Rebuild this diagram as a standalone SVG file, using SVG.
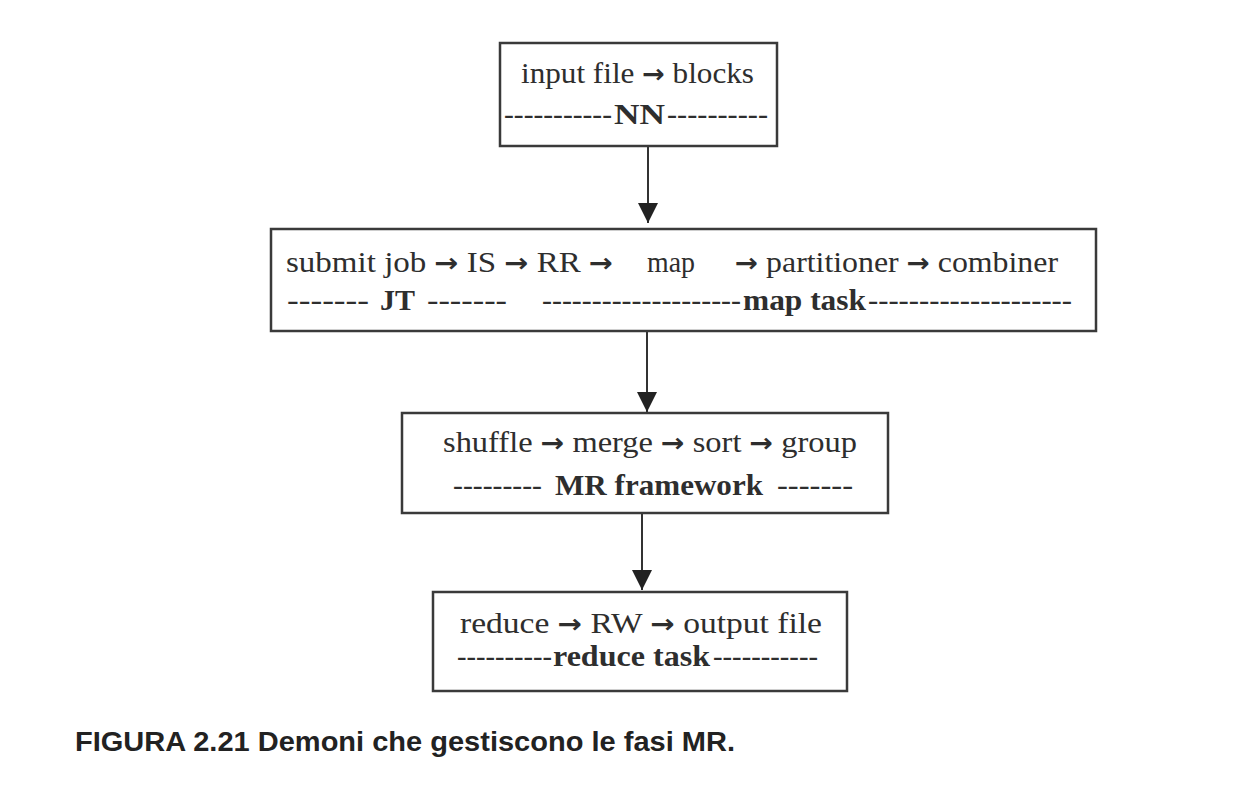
<svg xmlns="http://www.w3.org/2000/svg" width="1242" height="788" viewBox="0 0 1242 788">
<style>
  .box { fill: #ffffff; stroke: #3a3a3a; stroke-width: 2.5; }
  .t { font-family: "Liberation Serif", "Times New Roman", serif; font-size: 30px; fill: #2e2e2e; }
  .b { font-weight: bold; }
  .ar { font-family: "DejaVu Sans", sans-serif; font-size: 26px; font-weight: bold; }
  .edge { stroke: #333333; stroke-width: 2; fill: none; }
  .cap { font-family: "Liberation Sans", Arial, sans-serif; font-size: 27px; font-weight: bold; fill: #222222; }
</style>
<defs>
  <marker id="arrow" viewBox="0 0 20 20" refX="20" refY="10" markerWidth="20" markerHeight="20" markerUnits="userSpaceOnUse" orient="auto">
    <path d="M0,0 L20,10 L0,20 Z" fill="#222222"/>
  </marker>
</defs>
<rect width="1242" height="788" fill="#ffffff"/>

<g id="connectors">
  <line class="edge" x1="648" y1="146" x2="648" y2="223" marker-end="url(#arrow)"/>
  <line class="edge" x1="647" y1="331" x2="647" y2="412" marker-end="url(#arrow)"/>
  <line class="edge" x1="642" y1="513" x2="642" y2="590" marker-end="url(#arrow)"/>
</g>

<g id="node-nn">
  <rect class="box" x="500" y="43" width="277" height="103"/>
  <text class="t" x="521" y="83" textLength="233" lengthAdjust="spacingAndGlyphs">input file <tspan class="ar">→</tspan> blocks</text>
  <text class="t" y="124"><tspan x="504" textLength="108" lengthAdjust="spacingAndGlyphs">-----------</tspan><tspan class="b" x="614" textLength="51" lengthAdjust="spacingAndGlyphs">NN</tspan><tspan x="667" textLength="101" lengthAdjust="spacingAndGlyphs">----------</tspan></text>
</g>

<g id="node-jt-map">
  <rect class="box" x="271" y="229" width="825" height="102"/>
  <text class="t" y="272"><tspan x="286" textLength="327" lengthAdjust="spacingAndGlyphs">submit job <tspan class="ar">→</tspan> IS <tspan class="ar">→</tspan> RR <tspan class="ar">→</tspan></tspan> <tspan x="647" textLength="48" lengthAdjust="spacingAndGlyphs">map</tspan> <tspan x="735" textLength="323" lengthAdjust="spacingAndGlyphs"><tspan class="ar">→</tspan> partitioner <tspan class="ar">→</tspan> combiner</tspan></text>
  <text class="t" y="310"><tspan x="287" textLength="82" lengthAdjust="spacingAndGlyphs">-------</tspan> <tspan class="b" x="380" textLength="35" lengthAdjust="spacingAndGlyphs">JT</tspan> <tspan x="427" textLength="80" lengthAdjust="spacingAndGlyphs">-------</tspan> <tspan x="542" textLength="199" lengthAdjust="spacingAndGlyphs">--------------------</tspan><tspan class="b" x="743" textLength="123" lengthAdjust="spacingAndGlyphs">map task</tspan><tspan x="868" textLength="204" lengthAdjust="spacingAndGlyphs">--------------------</tspan></text>
</g>

<g id="node-mr">
  <rect class="box" x="402" y="413" width="486" height="100"/>
  <text class="t" x="443" y="452" textLength="414" lengthAdjust="spacingAndGlyphs">shuffle <tspan class="ar">→</tspan> merge <tspan class="ar">→</tspan> sort <tspan class="ar">→</tspan> group</text>
  <text class="t" y="495"><tspan x="453" textLength="89" lengthAdjust="spacingAndGlyphs">---------</tspan> <tspan class="b" x="555" textLength="208" lengthAdjust="spacingAndGlyphs">MR framework</tspan> <tspan x="777" textLength="76" lengthAdjust="spacingAndGlyphs">-------</tspan></text>
</g>

<g id="node-reduce">
  <rect class="box" x="433" y="592" width="414" height="99"/>
  <text class="t" x="460" y="633" textLength="362" lengthAdjust="spacingAndGlyphs">reduce <tspan class="ar">→</tspan> RW <tspan class="ar">→</tspan> output file</text>
  <text class="t" y="666"><tspan x="457" textLength="95" lengthAdjust="spacingAndGlyphs">----------</tspan><tspan class="b" x="553" textLength="157" lengthAdjust="spacingAndGlyphs">reduce task</tspan><tspan x="713" textLength="105" lengthAdjust="spacingAndGlyphs">-----------</tspan></text>
</g>

<text class="cap" x="75" y="751" textLength="660" lengthAdjust="spacingAndGlyphs">FIGURA 2.21 Demoni che gestiscono le fasi MR.</text>
</svg>
